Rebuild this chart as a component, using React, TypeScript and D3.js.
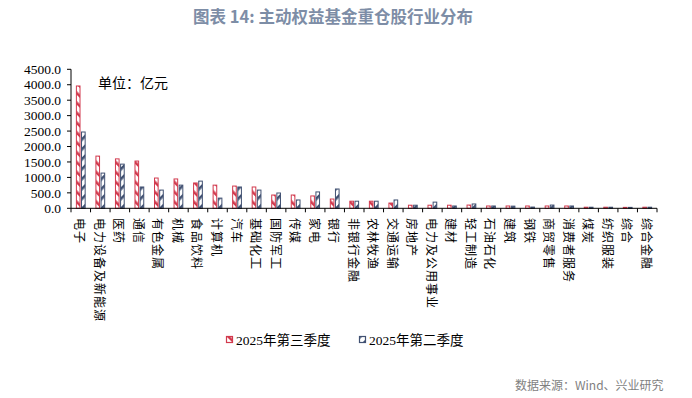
import React from "react";
import * as d3 from "d3";

const categories = [
  "电子", "电力设备及新能源", "医药", "通信", "有色金属", "机械", "食品饮料", "计算机",
  "汽车", "基础化工", "国防军工", "传媒", "家电", "银行", "非银行金融", "农林牧渔",
  "交通运输", "房地产", "电力及公用事业", "建材", "轻工制造", "石油石化", "建筑", "钢铁",
  "商贸零售", "消费者服务", "煤炭", "纺织服装", "综合", "综合金融",
];
const q3Values = [
  3960, 1690, 1600, 1530, 980, 950, 820, 750,
  720, 690, 430, 430, 400, 300, 230, 230,
  170, 100, 100, 100, 105, 75, 75, 75,
  75, 75, 35, 35, 30, 35,
];
const q2Values = [
  2470, 1140, 1430, 690, 590, 750, 880, 330,
  690, 590, 495, 270, 530, 625, 230, 230,
  270, 100, 200, 75, 140, 75, 70, 40,
  105, 75, 35, 35, 30, 35,
];
const seriesNames = ["2025年第三季度", "2025年第二季度"];
const yTicks = [0, 500, 1000, 1500, 2000, 2500, 3000, 3500, 4000, 4500];

const RED = "#d23a4e";
const BLUE = "#415172";

export default function App() {
  const width = 692, height = 398;
  const marginLeft = 71, marginRight = 35, marginTop = 69.3, axisY = 208.3;

  const xScale = d3.scaleBand<string>()
    .domain(categories)
    .range([marginLeft, width - marginRight])
    .padding(0);

  //two bars side by side inside each band
  const subScale = d3.scaleBand<string>()
    .domain(seriesNames)
    .range([xScale.bandwidth() * 0.25, xScale.bandwidth() * 0.75])
    .paddingInner(0.1);

  const yScale = d3.scaleLinear()
    .domain([0, 4500])
    .range([axisY, marginTop]);

  const fmt = d3.format(".1f");
  const serif = "'Liberation Serif', 'Times New Roman', 'Noto Sans CJK SC', serif";
  const cjk = "'Noto Sans CJK SC', sans-serif";

  const rows = categories.map((c, i) => ({ c, vals: [q3Values[i], q2Values[i]] }));
  const patterns = ["hatchRed", "hatchBlue"];
  const colors = [RED, BLUE];

  return (
    <svg width={width} height={height} style={{ position: "absolute", left: 0, top: 0, background: "#fff" }}>
      <defs>
        <pattern id="hatchRed" patternUnits="userSpaceOnUse" width={7} height={7} patternTransform="rotate(-45)">
          <rect width={7} height={7} fill="#fff" />
          <rect width={2.6} height={7} fill={RED} />
        </pattern>
        <pattern id="hatchBlue" patternUnits="userSpaceOnUse" width={7} height={7} patternTransform="rotate(45)">
          <rect width={7} height={7} fill="#fff" />
          <rect width={2.6} height={7} fill={BLUE} />
        </pattern>
      </defs>

      <text x={333} y={16} textAnchor="middle" dominantBaseline="central"
        fontFamily={cjk} fontWeight="bold" fontSize={16.5} fill="#7d8da6">
        图表 14: 主动权益基金重仓股行业分布
      </text>

      {/* bars */}
      {rows.map((r) => (
        <g key={r.c} transform={`translate(${xScale(r.c)},0)`}>
          {r.vals.map((v, k) => (
            <rect key={k}
              x={(subScale(seriesNames[k]) as number) + 0.5}
              y={yScale(v)}
              width={subScale.bandwidth() - 1}
              height={Math.max(axisY - yScale(v), 0.5)}
              fill={`url(#${patterns[k]})`}
              stroke={colors[k]} strokeWidth={1} />
          ))}
        </g>
      ))}

      {/* y axis */}
      <line x1={marginLeft} x2={marginLeft} y1={marginTop} y2={axisY} stroke="#000" />
      {yTicks.map((t) => (
        <g key={t} transform={`translate(${marginLeft},${yScale(t)})`}>
          <line x1={-4} x2={0} stroke="#000" />
          <text x={-10} dy="0.35em" textAnchor="end" fontFamily={serif} fontSize={13.5} fill="#000">{fmt(t)}</text>
        </g>
      ))}

      {/* x axis */}
      <line x1={marginLeft} x2={width - marginRight} y1={axisY} y2={axisY} stroke="#000" />
      {categories.map((c) => (
        <line key={"t" + c} x1={xScale(c)} x2={xScale(c)} y1={axisY} y2={axisY + 4} stroke="#000" />
      ))}
      <line x1={width - marginRight} x2={width - marginRight} y1={axisY} y2={axisY + 4} stroke="#000" />
      {categories.map((c) => (
        <text key={"l" + c}
          transform={`translate(${(xScale(c) as number) + xScale.bandwidth() / 2},218) rotate(90)`}
          dominantBaseline="central" letterSpacing={1}
          fontFamily={cjk} fontSize={12} fill="#000">{c}</text>
      ))}

      <text x={98} y={82} dominantBaseline="central" fontFamily={cjk} fontSize={14} fill="#000">单位：亿元</text>

      {/* legend */}
      {seriesNames.map((s, k) => (
        <g key={s} transform={`translate(${226 + k * 133},336)`}>
          <rect x={0.5} y={0.5} width={6} height={6} fill={`url(#${patterns[k]})`} stroke={colors[k]} strokeWidth={1.2} />
          <text x={10} y={4} dominantBaseline="central" fontFamily={serif} fontSize={13.5} fill="#000">{s}</text>
        </g>
      ))}

      <text x={515} y={384} dominantBaseline="central" fontFamily={cjk} fontSize={12} fill="#7f7f7f">数据来源：Wind、兴业研究</text>
    </svg>
  );
}
